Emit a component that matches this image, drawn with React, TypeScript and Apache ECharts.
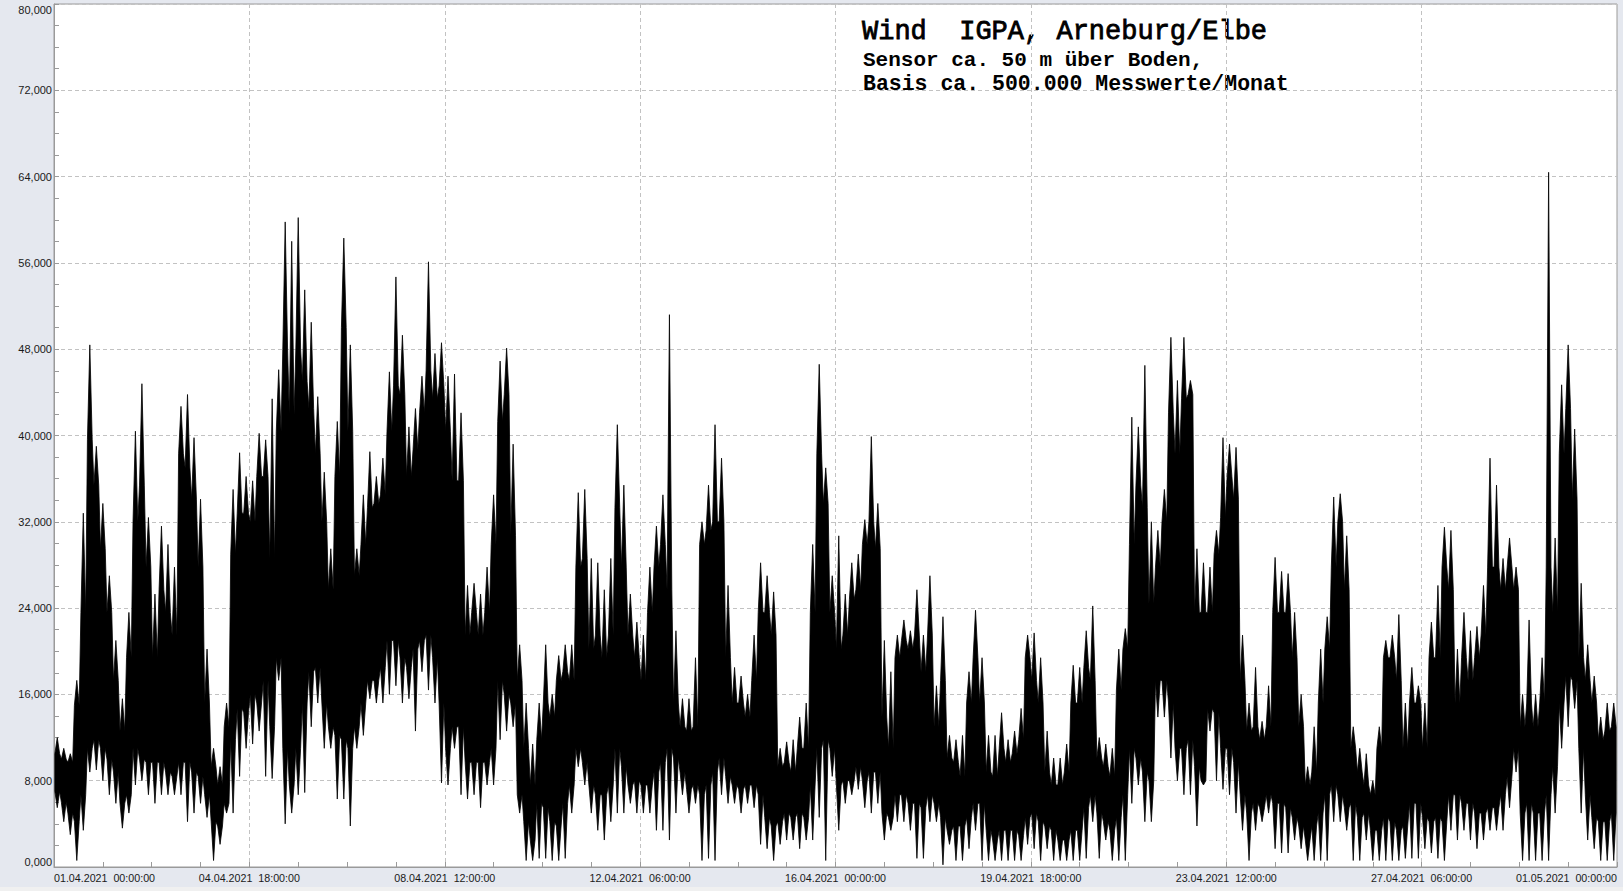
import React, { useEffect, useRef } from "react";
import * as echarts from "echarts";

// Wind speed record, 01.04.2021 00:00 .. 01.05.2021 00:00
// in 3-hour bins: highest needle, top of the dense band, bottom of the dense band, lowest needle.
const BIN_HOURS = 3;

const peakHigh = [
  // 01.04 00h .. 04.04 18h
  12, 11, 10.5, 17.3, 32.8, 48.4, 39, 33.7, 27, 21, 15.6, 23.6, 40.4, 44.8, 32.4, 25.3, 31.6, 29.9, 27.8, 42.7, 43.8, 39.8, 34.1, 20.2, 11, 9.3, 15.2, 35, 38.4, 36.2,
  // 04.04 18h .. 08.04 12h
  35.8, 40.2, 39.6, 43.4, 46.1, 59.8, 58, 60.2, 53.5, 50.5, 43.6, 36.6, 29.5, 41.3, 58.3, 48.4, 29.5, 34.5, 38.5, 36.2, 37.9, 45.9, 54.7, 49.3, 40.8, 42.5, 45.5, 56.1, 47.6, 48.6,
  // 08.04 12h .. 12.04 06h
  45.5, 45.7, 42.1, 26.1, 26.3, 25.3, 27.8, 34.5, 46.9, 48.1, 39.2, 20.6, 15.2, 11.4, 15.2, 20.6, 16, 19.6, 20.6, 20.6, 34.7, 35, 28.6, 28.2, 25.7, 28.6, 41, 35.4, 25.3, 22.7,
  // 12.04 06h .. 16.04 00h
  21.5, 27.8, 31.6, 34.5, 51.2, 21.9, 15.6, 15.6, 19.4, 32, 35.4, 41, 37.9, 26.1, 18.5, 17.7, 16, 21.5, 28.2, 27, 25.5, 11, 11.6, 11.8, 13.9, 15.2, 29.9, 46.6, 37, 27,
  // 16.04 00h .. 19.04 18h
  30.7, 25.3, 28.2, 29, 32.2, 39.9, 33.7, 21, 18.1, 21.5, 22.9, 21.9, 25.7, 21.5, 27, 16.8, 23.2, 12.2, 11.8, 12.2, 18.1, 23.8, 19.4, 12.2, 12.2, 14.3, 11.8, 12.6, 14.7, 21.5,
  // 19.04 18h .. 23.04 12h
  21.7, 19.4, 12.6, 10.1, 10.1, 11.4, 18.7, 18.5, 21.9, 24.2, 12, 11.4, 11, 20.2, 22.1, 41.7, 40.8, 46.5, 32, 31.2, 35, 49.1, 45.1, 49.1, 45.1, 29.5, 28.2, 27.8, 31.2, 39.8,
  // 23.04 12h .. 27.04 06h
  39.2, 38.9, 21.5, 15.2, 18.5, 13.5, 16.8, 28.7, 27.4, 27.2, 23.6, 16, 9.3, 13, 20.2, 23.2, 34.3, 34.6, 30.7, 13, 11, 10.5, 8, 13, 21, 21.5, 23.4, 15.2, 18.5, 16.8,
  // 27.04 06h .. 01.05 00h
  15.2, 22.7, 26.1, 31.5, 31.2, 20.2, 23.6, 21.9, 22.3, 26.1, 37.9, 35.4, 28.6, 30.5, 27.8, 16, 22.9, 16, 19.4, 64.4, 30.5, 44.7, 48.4, 40.6, 26.3, 20.6, 17.7, 13.9, 15.2, 15.2,
];

const bandTop = [
  10.5, 10, 9.7, 15, 23.6, 39.6, 35.4, 29.5, 23.6, 17.3, 12.6, 19.4, 32, 35.4, 27.8, 19.4, 25.7, 23.6, 21.5, 38.3, 37, 34.1, 27.8, 15.2, 9.3, 7.6, 13, 29, 32.8, 32.8,
  32, 36.2, 36.2, 28.6, 40.4, 48, 42, 48, 45, 42.5, 38.3, 32, 25.7, 36.2, 50, 40.4, 27, 29.9, 33.3, 33.7, 34.5, 40.4, 44.6, 43.8, 36.2, 38.7, 42.1, 46, 43.4, 44.6,
  40.4, 35.8, 35.8, 21.5, 23.6, 21.5, 23.6, 29.9, 41.3, 43.8, 30.7, 17.3, 11, 7.6, 11.8, 15.2, 13.9, 17.3, 18.1, 17.3, 27.8, 28.6, 20.2, 21.5, 19.4, 21.5, 33.3, 27.8, 21.5, 19.4,
  17.3, 23.6, 27.8, 29.9, 25.7, 15.2, 13, 12.6, 13, 29.9, 31.2, 32, 32, 19.4, 15.2, 15.2, 13.9, 17.3, 23.6, 23.6, 21.5, 9.3, 9.7, 8.8, 11, 11, 23.6, 38.3, 33.7, 23.6,
  20.2, 21.5, 24.8, 25.7, 29.9, 32, 29.5, 13.9, 11, 19.4, 21, 20.2, 21.5, 18.1, 21.5, 13, 17.3, 10.1, 9.7, 8.4, 15.2, 19.4, 15.2, 8.8, 8.4, 11, 9.7, 10.5, 11.8, 19.4,
  17.3, 15.2, 8.8, 7.6, 7.6, 8.8, 15.2, 15.2, 18.5, 17.3, 10.1, 9.3, 8.4, 16.4, 20.2, 29.9, 35.4, 33.3, 24.4, 27.8, 32, 42.1, 38.3, 43.4, 43.8, 23.6, 23.6, 23.6, 29, 32.4,
  36.2, 34.1, 17.3, 12.6, 13, 11.8, 13, 23.6, 23.6, 23.6, 19.4, 13, 7.6, 8.8, 15.2, 20.2, 27.8, 32, 25.7, 11, 8.8, 7.6, 6.7, 11, 19.4, 19.4, 17.3, 11, 15.2, 15.2,
  11, 19.4, 19.4, 27.8, 25.7, 15.2, 19.4, 17.3, 19.4, 21.5, 27.8, 27.8, 25.7, 27.8, 25.7, 13, 15.2, 13, 15.2, 27.8, 23.6, 38.3, 42.5, 34.1, 19.4, 17.3, 15.2, 11.8, 12.6, 13,
];

const bandBottom = [
  7, 6, 5, 4.2, 6.7, 11, 11.8, 11, 10, 8.8, 5.9, 6.7, 11, 10, 9.7, 9.7, 9.7, 8.8, 8.4, 9.7, 9.7, 8.8, 8.4, 6.7, 4.2, 3.8, 5.9, 11.8, 14.7, 14.3,
  16, 15.2, 17.3, 13, 19.4, 11, 7.6, 11, 15.2, 18.1, 18.5, 15.2, 13, 12.2, 11.8, 11, 13, 15.2, 17.3, 17.3, 18.5, 21, 21, 19.4, 18.5, 20.2, 21, 21.5, 19.4, 15.2,
  11, 13, 13, 9.7, 9.7, 9.7, 9.7, 11, 17.3, 16, 15.2, 6.7, 4.2, 2.5, 5.9, 5.5, 4.2, 3.8, 5.9, 7.6, 11, 9.7, 7.6, 6.7, 6.7, 7.6, 11, 9.3, 7.6, 8,
  7.6, 7.6, 8.8, 9.7, 11, 10.1, 8.8, 7.2, 7.6, 6.7, 7.6, 8.8, 10.1, 8.4, 7.6, 7.2, 7.6, 7.6, 6.7, 4.6, 3.8, 4.2, 5, 4.6, 5, 4.6, 7.6, 11, 11.8, 11,
  7.6, 8, 8, 9.3, 8, 8.8, 8.8, 5, 4.6, 6.7, 6.7, 5.9, 5.9, 5.5, 6.7, 5.9, 4.6, 3.4, 3.8, 3.8, 4.6, 5.9, 5.9, 3.4, 2.5, 3.4, 3.4, 3.4, 2.9, 4.6,
  5, 4.2, 3.8, 3.4, 2.5, 2.5, 3.4, 3.4, 5.5, 6.7, 5, 4.2, 3.4, 4.6, 6.7, 11, 10.1, 8.8, 8, 17.3, 17.3, 15.2, 11, 11, 11.8, 9.3, 8, 14.7, 14.3, 11,
  11, 9.7, 6.7, 5, 5.9, 5.5, 6.7, 5.9, 5.9, 5.5, 4.6, 3.8, 2.5, 3.8, 5, 6.7, 7.6, 6.7, 5.5, 5.9, 4.6, 5, 3.4, 3.4, 4.6, 4.2, 3.4, 3.8, 5.9, 5.9,
  4.6, 4.2, 4.6, 4.2, 6.7, 6.7, 5.9, 5.9, 5, 5, 5.5, 5.5, 6.7, 8.4, 11, 5, 5.9, 5, 5, 6.7, 9.3, 15.2, 17.7, 17.3, 11, 6.7, 4.6, 4.2, 4.2, 5,
];

const troughLow = [
  5.5, 4.2, 3, 0.6, 3.4, 8.8, 9, 8, 6.7, 5.9, 3.6, 5, 7.6, 8, 6.7, 5.9, 6.7, 6.7, 6.7, 6.7, 4.2, 5, 5.9, 4.6, 0.6, 2.1, 5, 5, 8.4, 11,
  11.4, 12.6, 8.4, 8.2, 17.3, 4, 5, 6.7, 6.9, 13, 15.2, 11, 11, 6.3, 6.3, 3.8, 11, 12.2, 15.6, 15.2, 15.2, 16, 16.8, 15.2, 15.6, 12.6, 18.1, 16.4, 15.2, 7.8,
  7.6, 11, 6.7, 6.3, 6.7, 5.5, 7.6, 7.6, 11.8, 12.6, 13, 5, 0.6, 0.6, 0.8, 0.8, 0.6, 0.6, 0.8, 5, 9.3, 7.6, 5, 3.4, 2.5, 4.2, 5, 5, 5.9, 5,
  5, 5, 3.4, 3.4, 2.5, 5, 6.7, 5, 5.9, 0.6, 0.8, 0.6, 6.7, 5.9, 5.9, 5, 5.9, 5.5, 2.1, 1.7, 0.6, 2.1, 2.5, 2.5, 1.7, 2.5, 2.5, 4.6, 0.6, 8.4,
  3.4, 5.9, 6.7, 7.2, 5.5, 5, 5.9, 2.5, 3.4, 4.2, 4.2, 3.4, 0.8, 0.8, 4.2, 4.2, 0.2, 2.1, 0.6, 0.6, 1.7, 3.4, 0.6, 0.6, 0.6, 0.6, 0.6, 0.6, 0.6, 2.1,
  1.7, 0.6, 1.7, 0.6, 0.6, 0.6, 0.6, 0.6, 0.8, 4.2, 0.8, 2.5, 0.6, 0.6, 0.6, 5.9, 7.6, 4.2, 4.2, 13.9, 13.9, 10.1, 8, 6.7, 6.7, 3.8, 7.6, 12.6, 8, 7.2,
  6.7, 5, 3.4, 0.6, 3.4, 4.2, 5, 1.7, 1.3, 1.3, 2.5, 1.7, 0.6, 0.6, 0.6, 0.6, 4.2, 4.2, 3.4, 0.6, 0.6, 2.5, 0.6, 0.6, 0.6, 0.6, 0.6, 0.8, 0.8, 0.8,
  1.7, 1.3, 0.8, 0.6, 3.4, 2.5, 3.4, 2.5, 1.7, 2.5, 3.4, 3.4, 3.4, 5.5, 8.8, 0.6, 0.6, 0.6, 0.6, 0.6, 5, 11, 13, 14.7, 5, 2.5, 1.7, 0.6, 0.6, 0.6,
];

const xTickLabels = [
  "01.04.2021  00:00:00",
  "04.04.2021  18:00:00",
  "08.04.2021  12:00:00",
  "12.04.2021  06:00:00",
  "16.04.2021  00:00:00",
  "19.04.2021  18:00:00",
  "23.04.2021  12:00:00",
  "27.04.2021  06:00:00",
  "01.05.2021  00:00:00",
];

const yTickLabels = [
  "0,000", "8,000", "16,000", "24,000", "32,000", "40,000",
  "48,000", "56,000", "64,000", "72,000", "80,000",
];

const titleText = "Wind  IGPA, Arneburg/Elbe";
const subtitleLines = ["Sensor ca. 50 m über Boden,", "Basis ca. 500.000 Messwerte/Monat"];

export default function App() {
  const ref = useRef<HTMLDivElement>(null);

  useEffect(() => {
    if (!ref.current) return;
    const chart = echarts.init(ref.current, null, { renderer: "svg" });
    const n = peakHigh.length;
    const SPIKE = 1.1;

    const renderItem = (_params: any, api: any) => {
      const pts: number[][] = [];
      for (let i = 0; i < n; i++) {
        const c = i * BIN_HOURS + BIN_HOURS / 2;
        pts.push(api.coord([c - SPIKE, bandTop[i]]));
        pts.push(api.coord([c, peakHigh[i]]));
        pts.push(api.coord([c + SPIKE, bandTop[i]]));
      }
      for (let i = n - 1; i >= 0; i--) {
        const c = i * BIN_HOURS + BIN_HOURS / 2;
        pts.push(api.coord([c + SPIKE, bandBottom[i]]));
        pts.push(api.coord([c, troughLow[i]]));
        pts.push(api.coord([c - SPIKE, bandBottom[i]]));
      }
      return {
        type: "polygon",
        shape: { points: pts },
        style: { fill: "#000", stroke: "#000", lineWidth: 0.8 },
      };
    };

    const axisColor = "#9a9a9a";
    const gridLine = { color: "#c2c2c2", type: [4, 3] as any, width: 1 };
    const monoFamily = '"Liberation Mono", "Courier New", monospace';

    chart.setOption({
      animation: false,
      backgroundColor: "#e5e8ef",
      grid: {
        left: 54,
        top: 4,
        width: 1563,
        height: 863,
        show: true,
        backgroundColor: "#ffffff",
        borderColor: axisColor,
        borderWidth: 1,
      },
      xAxis: {
        type: "value",
        min: 0,
        max: 720,
        interval: 90,
        axisLine: { show: true, lineStyle: { color: axisColor } },
        axisTick: { show: true, inside: true, length: 5, lineStyle: { color: axisColor } },
        minorTick: { show: true, splitNumber: 4, length: 5, lineStyle: { color: axisColor } },
        splitLine: { show: true, lineStyle: gridLine },
        axisLabel: {
          formatter: (v: number) => xTickLabels[Math.round(v / 90)] ?? "",
          fontSize: 10.7,
          fontFamily: '"Liberation Sans", Arial, sans-serif',
          color: "#1a1a1a",
          margin: 5,
          alignMinLabel: "left",
          alignMaxLabel: "right",
        },
      },
      yAxis: {
        type: "value",
        min: 0,
        max: 80,
        interval: 8,
        axisLine: { show: true, lineStyle: { color: axisColor } },
        axisTick: { show: true, inside: true, length: 5, lineStyle: { color: axisColor } },
        minorTick: { show: true, splitNumber: 4, length: 5, lineStyle: { color: axisColor } },
        splitLine: { show: true, lineStyle: gridLine },
        axisLabel: {
          formatter: (v: number) => yTickLabels[Math.round(v / 8)] ?? "",
          fontSize: 11,
          fontFamily: '"Liberation Sans", Arial, sans-serif',
          color: "#1a1a1a",
          margin: 2,
          verticalAlignMinLabel: "bottom",
          verticalAlignMaxLabel: "top",
        },
      },
      series: [
        {
          type: "custom",
          data: [[0, 0]],
          clip: true,
          renderItem,
          silent: true,
        },
      ],
      graphic: [
        {
          type: "rect",
          shape: { x: 0, y: 887, width: 1623, height: 4 },
          style: { fill: "#f0f0f0" },
          silent: true,
        },
        {
          type: "text",
          x: 862,
          y: 31.5,
          style: {
            text: titleText,
            font: `27px ${monoFamily}`,
            fill: "#000",
            stroke: "#000",
            lineWidth: 0.8,
            verticalAlign: "middle",
            align: "left",
          },
        },
        {
          type: "text",
          x: 863,
          y: 60.5,
          style: {
            text: subtitleLines[0],
            font: `bold 21px ${monoFamily}`,
            fill: "#000",
            verticalAlign: "middle",
            align: "left",
          },
        },
        {
          type: "text",
          x: 863,
          y: 84,
          style: {
            text: subtitleLines[1],
            font: `bold 21.5px ${monoFamily}`,
            fill: "#000",
            verticalAlign: "middle",
            align: "left",
          },
        },
      ],
    });
    return () => chart.dispose();
  }, []);

  return (
    <div
      ref={ref}
      style={{ position: "fixed", left: 0, top: 0, width: 1623, height: 891 }}
    />
  );
}
